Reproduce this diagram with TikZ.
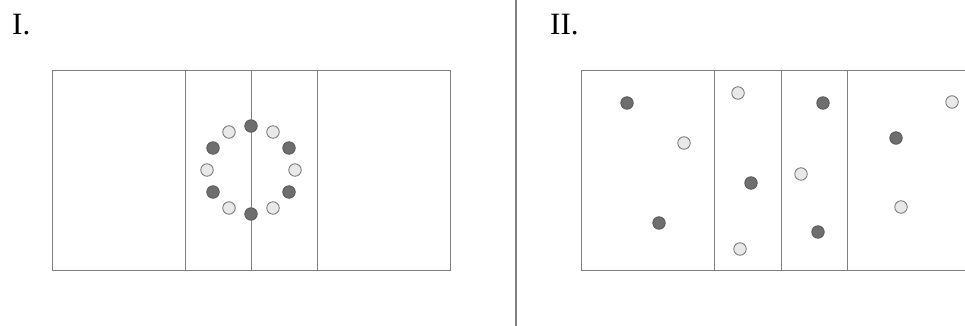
\documentclass[tikz,border=0pt]{standalone}
\usepackage{fontspec}
\setmainfont{Liberation Serif}
\usetikzlibrary{positioning}

\definecolor{trait}{gray}{0.5}
\definecolor{gris fonce}{gray}{0.43}
\definecolor{gris clair}{gray}{0.91}

\tikzset{
  cadre/.style={draw=trait, line width=1pt},
  pionsombre/.style={circle, draw=black!65, fill=gris fonce, line width=0.8pt,
    minimum size=12.5pt, inner sep=0pt},
  pionclair/.style={circle, draw=black!55, fill=gris clair, line width=0.8pt,
    minimum size=12.5pt, inner sep=0pt},
  numero/.style={font=\fontsize{31}{36}\selectfont, inner sep=0pt, anchor=base west}
}

\begin{document}
\begin{tikzpicture}[x=1pt, y=-1pt]
\clip (0,0) rectangle (965,326);

% Separation
\coordinate (sepHaut) at (516,0);
\coordinate (sepBas) at (516,326);
\draw[trait, line width=1.2pt] (sepHaut) -- (sepBas);

\node[numero] (numI) at (12,35) {I.};
\node[numero] (numII) at (550,35) {II.};

% Etat I
\draw[cadre] (52,71) rectangle (450,270);
\draw[cadre] (185,71) -- (185,270);
\draw[cadre] (251,71) -- (251,270);
\draw[cadre] (317,71) -- (317,270);

\node[pionsombre] (a1) at (251,126) {};
\node[pionclair] (a2) at (273,132) {};
\node[pionsombre] (a3) at (289,148) {};
\node[pionclair] (a4) at (295,170) {};
\node[pionsombre] (a5) at (289,192) {};
\node[pionclair] (a6) at (273,208) {};
\node[pionsombre] (a7) at (251,214) {};
\node[pionclair] (a8) at (229,208) {};
\node[pionsombre] (a9) at (213,192) {};
\node[pionclair] (a10) at (207,170) {};
\node[pionsombre] (a11) at (213,148) {};
\node[pionclair] (a12) at (229,132) {};

% Etat II
\draw[cadre] (581,71) rectangle (990,270);
\draw[cadre] (714,71) -- (714,270);
\draw[cadre] (781,71) -- (781,270);
\draw[cadre] (847,71) -- (847,270);

\node[pionsombre] (b1) at (627,103) {};
\node[pionclair] (b2) at (684,143) {};
\node[pionsombre] (b3) at (659,223) {};
\node[pionclair] (b4) at (738,93) {};
\node[pionsombre] (b5) at (751,183) {};
\node[pionclair] (b6) at (740,249) {};
\node[pionsombre] (b7) at (823,103) {};
\node[pionclair] (b8) at (801,174) {};
\node[pionsombre] (b9) at (818,232) {};
\node[pionclair] (b10) at (952,102) {};
\node[pionsombre] (b11) at (896,138) {};
\node[pionclair] (b12) at (901,207) {};
\end{tikzpicture}
\end{document}
